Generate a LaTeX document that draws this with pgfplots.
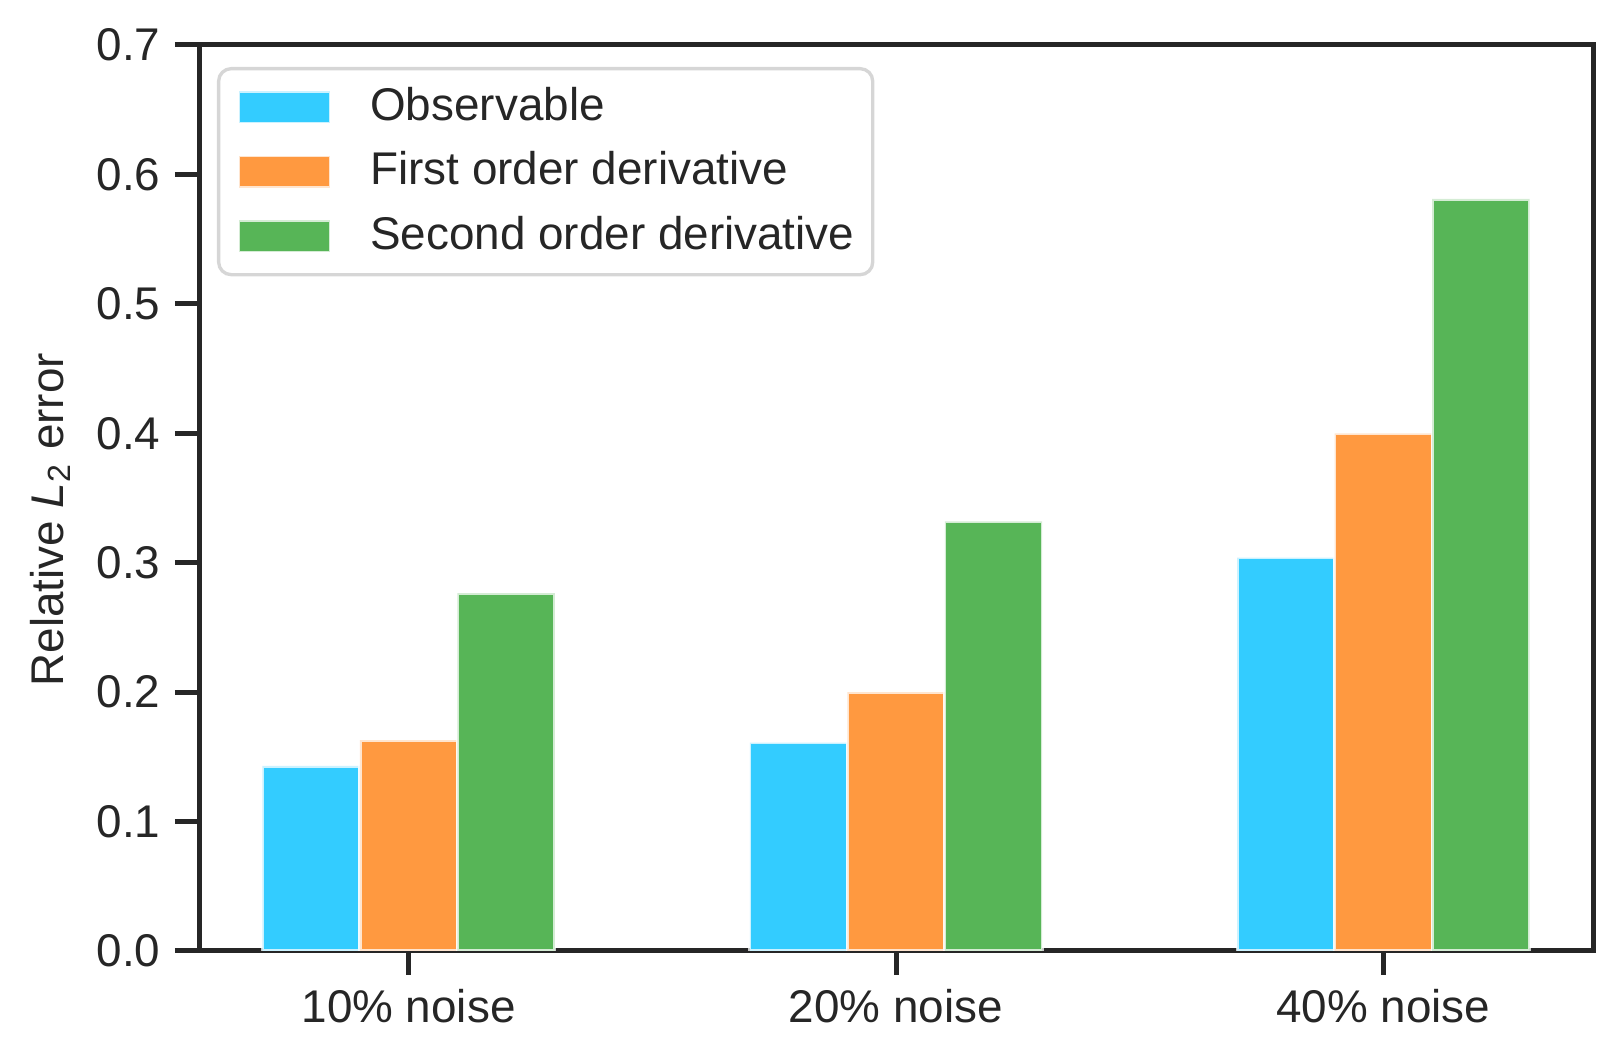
\documentclass[border=0pt]{standalone}
\usepackage{fontspec}
\setmainfont{Liberation Sans}
\usepackage{pgfplots}
\pgfplotsset{compat=1.18}
\definecolor{spine}{RGB}{38,38,38}
\definecolor{obsblue}{RGB}{51,204,255}
\definecolor{firstorange}{RGB}{255,153,64}
\definecolor{secondgreen}{RGB}{87,181,87}
\definecolor{legendgray}{RGB}{214,214,214}
\pgfplotsset{
  mylegend/.style={legend image code/.code={%
    \fill[##1, sharp corners] (0pt,-3.85pt) rectangle (22pt,3.85pt);
    \path (0pt,-5.35pt) (31.2pt,3.85pt);}},
  mybar/.style={ybar, bar width=0.2, bar shift=0pt, draw=white, draw opacity=0.75, line width=0.8pt, mylegend},
}
\begin{document}
\begin{tikzpicture}
\begin{axis}[
  name=ax,
  scale only axis,
  width=334.56pt, height=217.44pt,
  xmin=-0.43, xmax=2.43,
  ymin=0, ymax=0.7,
  xtick={0,1,2},
  xticklabels={10\% noise, 20\% noise, 40\% noise},
  ytick={0,0.1,0.2,0.3,0.4,0.5,0.6,0.7},
  yticklabel style={/pgf/number format/.cd, fixed, fixed zerofill, precision=1, assume math mode=true},
  tick pos=left,
  tick align=outside,
  major tick length=5.76pt,
  tick style={line width=1.2pt, color=spine},
  axis line style={line width=1.2pt, color=spine},
  ticklabel style={font=\fontsize{11}{13.2}\selectfont, text=spine},
  ylabel={Relative \textit{L}\textsubscript{2} error},
  ylabel style={font=\fontsize{11}{13.2}\selectfont, text=spine, at={(axis description cs:-0.097,0.476)}, anchor=base},
  legend cell align=left,
  legend style={at={(axis description cs:0.0129,0.9757)}, anchor=north west,
    draw=legendgray, line width=0.8pt, rounded corners=3pt,
    inner xsep=4.4pt, inner ysep=1.5pt, row sep=0pt,
    font=\fontsize{11}{13.2}\selectfont, text=spine,
    nodes={inner sep=0pt, text height=10.93pt, text depth=4.55pt}},
]
\addplot[mybar, fill=obsblue]
  coordinates {(-0.2,0.143) (0.8,0.161) (1.8,0.304)};
\addplot[mybar, fill=firstorange]
  coordinates {(0,0.163) (1,0.200) (2,0.400)};
\addplot[mybar, fill=secondgreen]
  coordinates {(0.2,0.2765) (1.2,0.332) (2.2,0.581)};
\legend{Observable, First order derivative, Second order derivative}
\coordinate (bl) at (rel axis cs:0,0);
\coordinate (tr) at (rel axis cs:1,1);
\end{axis}
\pgfresetboundingbox
\path[use as bounding box] ([xshift=-47.76pt,yshift=-26.64pt]bl) rectangle ([xshift=7.2pt,yshift=10.8pt]tr);
\end{tikzpicture}
\end{document}
